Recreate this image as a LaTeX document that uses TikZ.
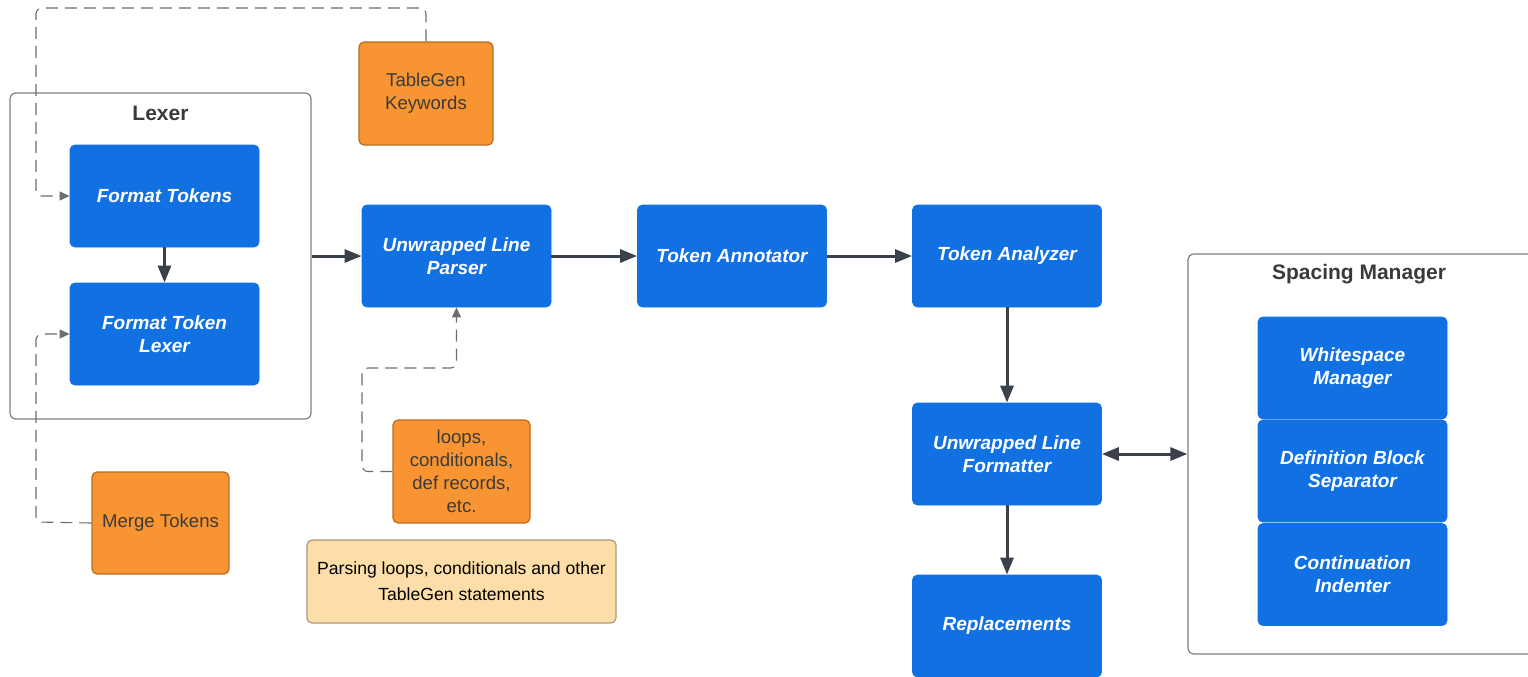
\documentclass[tikz,border=0pt]{standalone}
\usepackage{fontspec}
\setmainfont{Liberation Sans}
\usetikzlibrary{arrows.meta}
\definecolor{bluebox}{HTML}{1171E3}
\definecolor{orangebox}{HTML}{F89532}
\definecolor{orangeedge}{HTML}{B86E24}
\definecolor{notefill}{HTML}{FEDEA8}
\definecolor{noteedge}{HTML}{A99A7E}
\definecolor{arrowcol}{HTML}{3B4149}
\definecolor{frame}{HTML}{808080}
\definecolor{dashcol}{HTML}{6A6E73}
\definecolor{txtgray}{HTML}{3A3A3A}
\tikzset{
  bluenode/.style={draw=bluebox, fill=bluebox, rounded corners=2.5pt, minimum width=94.5pt, minimum height=51pt,
    text=white, align=center, font=\fontsize{9.5}{11.5}\selectfont\bfseries\itshape, inner sep=0pt},
  orangenode/.style={draw=orangeedge, line width=0.6pt, fill=orangebox, rounded corners=2.5pt, minimum width=68.5pt, minimum height=51.5pt,
    text=txtgray, align=center, font=\fontsize{9.3}{11.5}\selectfont, inner sep=0pt},
  notenode/.style={draw=noteedge, line width=0.6pt, fill=notefill, rounded corners=2.5pt, minimum width=154.5pt, minimum height=41.5pt,
    text=black, align=center, font=\fontsize{8.8}{13}\selectfont, inner sep=0pt},
  container/.style={draw=frame, line width=0.6pt, rounded corners=3pt, fill=none},
  titletext/.style={text=txtgray, font=\fontsize{10.5}{12}\selectfont\bfseries},
  solidarr/.style={draw=arrowcol, line width=1.5pt, -{Triangle[length=8.5pt,width=6.5pt]}},
  bothsolid/.style={draw=arrowcol, line width=1.5pt, {Triangle[length=8.5pt,width=6.5pt]}-{Triangle[length=8.5pt,width=6.5pt]}},
  dasharr/.style={draw=dashcol, line width=0.55pt, dash pattern=on 6pt off 3.5pt, rounded corners=3pt,
    -{Triangle[length=5pt,width=4.5pt]}},
}
\begin{document}
\begin{tikzpicture}[x=0.5pt,y=-0.5pt]
\clip (0,0) rectangle (1528,676);
\fill[white] (0,0) rectangle (1528,676);

% containers
\node[container, minimum width=150.5pt, minimum height=163pt] (lexer) at (160.5,256) {};
\node[titletext] (lexertitle) at (160.5,113) {Lexer};
\node[container, minimum width=173.5pt, minimum height=200pt] (spacing) at (1361.5,454) {};
\node[titletext] (spacingtitle) at (1359,274) {Spacing Manager};

% blue boxes
\node[bluenode] (ft) at (164.5,196) {Format Tokens};
\node[bluenode] (ftl) at (164.5,334) {Format Token\\Lexer};
\node[bluenode] (ulp) at (456.5,256) {Unwrapped Line\\Parser};
\node[bluenode] (tann) at (732,256) {Token Annotator};
\node[bluenode] (tana) at (1007,256) {Token Analyzer};
\node[bluenode] (ulf) at (1007,454) {Unwrapped Line\\Formatter};
\node[bluenode] (rep) at (1007,626) {Replacements};
\node[bluenode] (wm) at (1352.5,368) {Whitespace\\Manager};
\node[bluenode] (dbs) at (1352.5,471) {Definition Block\\Separator};
\node[bluenode] (ci) at (1352.5,574.5) {Continuation\\Indenter};

% orange boxes
\node[orangenode, minimum width=67pt] (tgk) at (426,93.5) {TableGen\\Keywords};
\node[orangenode, minimum height=51pt] (mt) at (160.5,523) {Merge Tokens};
\node[orangenode] (loops) at (461.5,471.5) {loops,\\conditionals,\\def records,\\etc.};
\node[notenode] (note) at (461.5,581.5) {Parsing loops, conditionals and other\\TableGen statements};

% solid connectors
\draw[solidarr] (ft.south) -- (ftl.north);
\draw[solidarr] (lexer.east) -- (ulp.west);
\draw[solidarr] (ulp.east) -- (tann.west);
\draw[solidarr] (tann.east) -- (tana.west);
\draw[solidarr] (tana.south) -- (ulf.north);
\draw[solidarr] (ulf.south) -- (rep.north);
\draw[bothsolid] (ulf.east) -- (spacing.west);

% dashed connectors
\coordinate (k1) at (36,8);
\draw[dasharr] (tgk.north) |- (k1) |- (ft.west);
\coordinate (m1) at (36,522);
\draw[dasharr] (mt.west) -- (m1) |- (ftl.west);
\coordinate (l1) at (362,368);
\draw[dasharr] (loops.west) -| (l1) -| (ulp.south);
\end{tikzpicture}
\end{document}
